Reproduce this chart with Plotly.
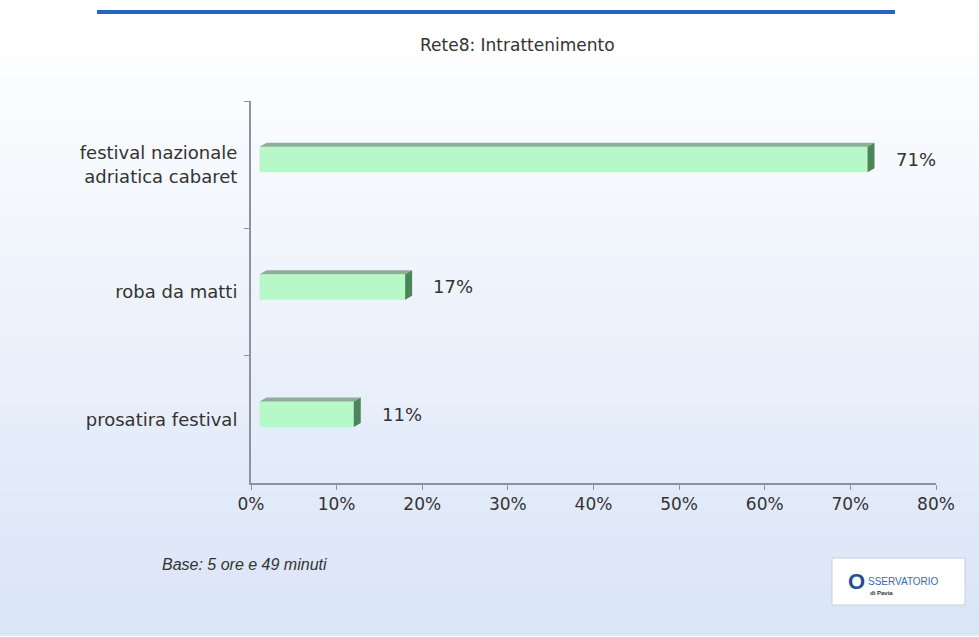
import plotly.graph_objects as go

# ---- data ----
categories = ["festival nazionale<br>adriatica cabaret", "roba da matti", "prosatira festival"]
values = [71, 17, 11]
value_labels = ["71%", "17%", "11%"]
x_tickvals = [0, 10, 20, 30, 40, 50, 60, 70, 80]
x_ticktext = ["0%", "10%", "20%", "30%", "40%", "50%", "60%", "70%", "80%"]
title_text = "Rete8: Intrattenimento"
base_note = "Base: 5 ore e 49 minuti"

W, H = 979, 637
ML, MR, MT, MB = 251, 43, 101, 154
FONT = "DejaVu Sans"

X_RANGE = [0, 80]
SHIFT_X = 1.0    # 3D projection offset of the bars (x units)
SHIFT_Y = 0.04   # 3D projection offset of the bars (category units, upward)
px_per_x = (W - ML - MR) / (X_RANGE[1] - X_RANGE[0])
px_per_y = (H - MT - MB) / len(categories)
BAR_W = 0.2
DX = 7 / px_per_x
DY = 4 / px_per_y

fig = go.Figure()

# invisible trace to anchor the visible axes
fig.add_trace(go.Scatter(x=[0], y=[categories[0]], mode="markers",
                         marker=dict(opacity=0), hoverinfo="skip", showlegend=False,
                         xaxis="x", yaxis="y"))

fig.add_trace(go.Bar(
    x=values, y=categories, orientation="h",
    width=BAR_W,
    marker=dict(color="#b6f8c7", line=dict(width=0)),
    xaxis="x2", yaxis="y2",
    hoverinfo="skip", showlegend=False,
))

shapes = []
# background gradient
n = 80
top_c = (255, 255, 255)
bot_c = (218, 229, 248)
for i in range(n):
    t = i / (n - 1)
    c = tuple(int(top_c[k] + (bot_c[k] - top_c[k]) * t) for k in range(3))
    shapes.append(dict(type="rect", xref="paper", yref="paper", layer="below",
                       x0=-1, x1=2, y0=1.2 - (i + 1) * 1.6 / n, y1=1.2 - i * 1.6 / n + 0.002,
                       fillcolor="rgb(%d,%d,%d)" % c, line=dict(width=0)))


def px_to_paper_x(px):
    return (px - ML) / (W - ML - MR)


def px_to_paper_y(py):
    return 1 - (py - MT) / (H - MT - MB)


# top blue line
shapes.append(dict(type="line", xref="paper", yref="paper",
                   x0=px_to_paper_x(97), x1=px_to_paper_x(895),
                   y0=px_to_paper_y(12), y1=px_to_paper_y(12),
                   line=dict(color="#2563c4", width=4)))

# 3D faces of bars
for i, v in enumerate(values):
    top = i - BAR_W / 2
    bot = i + BAR_W / 2
    shapes.append(dict(type="path", xref="x2", yref="y2", layer="above",
                       path=f"M 0,{top} L {v},{top} L {v+DX},{top-DY} L {DX},{top-DY} Z",
                       fillcolor="#8fae98", line=dict(width=0)))
    shapes.append(dict(type="path", xref="x2", yref="y2", layer="above",
                       path=f"M {v},{top} L {v+DX},{top-DY} L {v+DX},{bot-DY} L {v},{bot} Z",
                       fillcolor="#4c8559", line=dict(width=0)))

# logo box
shapes.append(dict(type="rect", xref="paper", yref="paper",
                   x0=px_to_paper_x(832), x1=px_to_paper_x(965),
                   y0=px_to_paper_y(605), y1=px_to_paper_y(558),
                   fillcolor="white", line=dict(color="#c8cfdc", width=1)))

annotations = []
for i, (v, lab) in enumerate(zip(values, value_labels)):
    annotations.append(dict(x=v + DX, y=i, xref="x2", yref="y2", text=lab,
                            showarrow=False, xanchor="left", xshift=19,
                            font=dict(family=FONT, size=18, color="#333333")))

annotations.append(dict(x=px_to_paper_x(517), y=px_to_paper_y(45), xref="paper", yref="paper",
                        text=title_text, showarrow=False, xanchor="center", yanchor="middle",
                        font=dict(family=FONT, size=17, color="#333333")))
annotations.append(dict(x=px_to_paper_x(160), y=px_to_paper_y(564), xref="paper", yref="paper",
                        text="<i>" + base_note + "</i>", showarrow=False, xanchor="left", yanchor="middle",
                        font=dict(family="Liberation Sans", size=16, color="#333333")))
annotations.append(dict(x=px_to_paper_x(846), y=px_to_paper_y(581), xref="paper", yref="paper",
                        text="<b>O</b>", showarrow=False, xanchor="left", yanchor="middle",
                        font=dict(family="Liberation Sans", size=22, color="#1f4f9a")))
annotations.append(dict(x=px_to_paper_x(866), y=px_to_paper_y(581), xref="paper", yref="paper",
                        text="SSERVATORIO", showarrow=False, xanchor="left", yanchor="middle",
                        font=dict(family="Liberation Sans", size=10, color="#3a68b8")))
annotations.append(dict(x=px_to_paper_x(868), y=px_to_paper_y(593), xref="paper", yref="paper",
                        text="<b>di Pavia</b>", showarrow=False, xanchor="left", yanchor="middle",
                        font=dict(family="Liberation Sans", size=6, color="#333333")))

fig.update_layout(
    width=W, height=H,
    margin=dict(l=ML, r=MR, t=MT, b=MB),
    paper_bgcolor="white",
    plot_bgcolor="rgba(0,0,0,0)",
    shapes=shapes,
    annotations=annotations,
    xaxis=dict(range=X_RANGE, tickvals=x_tickvals, ticktext=x_ticktext,
               showgrid=False, zeroline=False, showline=True,
               linecolor="#8c939e", linewidth=2, ticks="outside", ticklen=5,
               tickcolor="#8c939e", tickwidth=1,
               tickfont=dict(family=FONT, size=17, color="#333333")),
    xaxis2=dict(range=[X_RANGE[0] - SHIFT_X, X_RANGE[1] - SHIFT_X], overlaying="x",
                anchor="y", visible=False),
    yaxis=dict(type="category", categoryorder="array", categoryarray=categories,
               range=[len(categories) - 0.5, -0.5], tickson="boundaries",
               showgrid=False, zeroline=False, showline=True,
               linecolor="#8c939e", linewidth=2, ticks="outside", ticklen=5,
               tickcolor="#8c939e", tickwidth=1, ticklabelstandoff=8,
               tickfont=dict(family=FONT, size=18, color="#333333")),
    yaxis2=dict(type="category", categoryorder="array", categoryarray=categories,
                range=[len(categories) - 0.5 + SHIFT_Y, -0.5 + SHIFT_Y],
                overlaying="y", anchor="x", visible=False),
)

fig.write_html("out.html", config={"displayModeBar": False},
               post_script="document.body.style.margin='0';")
